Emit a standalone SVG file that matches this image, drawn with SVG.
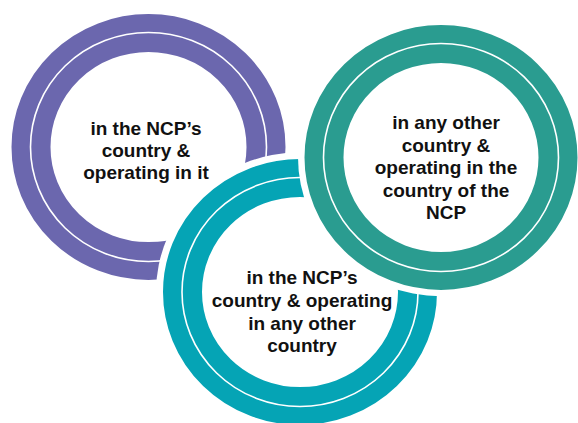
<svg xmlns="http://www.w3.org/2000/svg" width="578" height="423" viewBox="0 0 578 423">
<style>
.halo{fill:#ffffff;}
.band{fill:#ffffff;stroke-width:39;}
.line{fill:none;stroke:#ffffff;stroke-width:1.6;}
.p{stroke:#6B67AE;}
.t{stroke:#2A9C90;}
.c{stroke:#05A4B5;}
text{font-family:"Liberation Sans",Arial,sans-serif;font-weight:bold;font-size:19px;fill:#111111;text-anchor:middle;}
</style>
<rect width="578" height="423" fill="#ffffff"/>
<g id="ring-purple">
<g transform="translate(148.5,147) scale(1,0.97)">
<circle class="halo" r="144"/>
<circle class="band p" r="117.5"/>
<circle class="line" r="118"/>
</g>
<text x="146" y="135">in the NCP’s</text>
<text x="146" y="157">country &amp;</text>
<text x="146" y="179">operating in it</text>
</g>
<g id="ring-cyan">
<g transform="translate(300,292) scale(1,0.97)">
<circle class="halo" r="144"/>
<circle class="band c" r="117.5"/>
<circle class="line" r="118"/>
</g>
<text x="302" y="284">in the NCP’s</text>
<text x="302" y="307">country &amp; operating</text>
<text x="302" y="330">in any other</text>
<text x="302" y="352">country</text>
</g>
<g id="ring-teal">
<g transform="translate(441,157.5) scale(1,0.97)">
<circle class="halo" r="143"/>
<circle class="band t" r="117"/>
<circle class="line" r="117.5"/>
</g>
<text x="446" y="129">in any other</text>
<text x="446" y="151.5">country &amp;</text>
<text x="446" y="174">operating in the</text>
<text x="446" y="196.5">country of the</text>
<text x="446" y="219">NCP</text>
</g>
<g id="connectors"></g>
</svg>
